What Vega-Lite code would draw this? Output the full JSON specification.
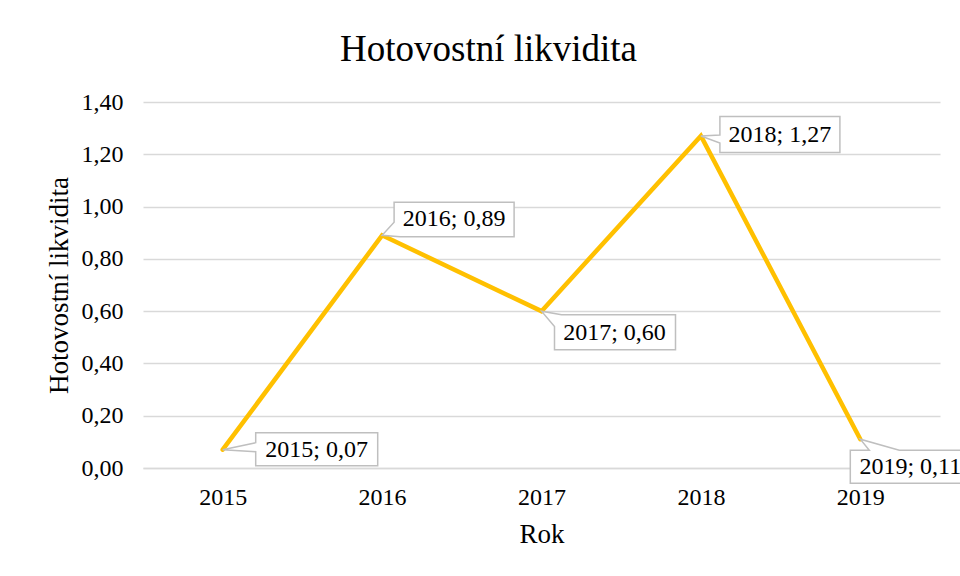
{
  "$schema": "https://vega.github.io/schema/vega-lite/v6.json",
  "autosize": {"type": "none"},
  "padding": {"left": 143, "top": 102, "right": 20, "bottom": 108},
  "width": 797,
  "height": 366,
  "background": "white",
  "config": {
    "font": "Liberation Serif",
    "view": {"stroke": null},
    "axis": {"labelColor": "black", "titleColor": "black", "titleFontWeight": "normal", "labelFont": "Liberation Serif", "titleFont": "Liberation Serif"}
  },
  "title": {"text": "Hotovostní likvidita", "fontSize": 37, "font": "Liberation Serif", "fontWeight": "normal", "color": "black", "anchor": "middle", "frame": "group", "dx": -53, "offset": 21},
  "data": {"values": [
    {"year": "2015", "value": 0.07, "label": "2015; 0,07"},
    {"year": "2016", "value": 0.89, "label": "2016; 0,89"},
    {"year": "2017", "value": 0.60, "label": "2017; 0,60"},
    {"year": "2018", "value": 1.27, "label": "2018; 1,27"},
    {"year": "2019", "value": 0.11, "label": "2019; 0,11"}
  ]},
  "encoding": {
    "x": {"field": "year", "type": "ordinal", "scale": {"type": "point", "padding": 0.5},
      "axis": {"title": "Rok", "labelAngle": 0, "ticks": false, "grid": false, "domainColor": "#D9D9D9", "domainWidth": 1.5, "labelFontSize": 24, "labelPadding": 17, "titleFontSize": 27, "titlePadding": 12}},
    "y": {"field": "value", "type": "quantitative", "scale": {"domain": [0, 1.4], "nice": false, "zero": true},
      "axis": {"title": "Hotovostní likvidita", "values": [0, 0.2, 0.4, 0.6, 0.8, 1.0, 1.2, 1.4], "labelExpr": "replace(format(datum.value, '.2f'), '.', ',')", "domain": false, "ticks": false, "gridColor": "#D9D9D9", "gridWidth": 1.5, "labelFontSize": 24, "labelPadding": 20, "titleFontSize": 27, "titlePadding": 8}}
  },
  "layer": [
    {"mark": {"type": "line", "color": "#FFC000", "strokeWidth": 4.5, "strokeCap": "round", "strokeJoin": "miter"}},
    {"transform": [{"filter": "datum.year == '2015'"}],
     "layer": [
       {"mark": {"type": "point", "filled": true, "size": 4, "fill": "white", "opacity": 1, "stroke": "#BFBFBF", "strokeWidth": 1.5, "shape": "M33,-17L155,-17L155,16L33,16L33,2L0,0L33,-7Z"}},
       {"mark": {"type": "text", "fontSize": 24, "color": "black", "align": "center", "baseline": "middle", "dx": 94, "dy": 0}, "encoding": {"text": {"field": "label"}}}
     ]},
    {"transform": [{"filter": "datum.year == '2016'"}],
     "layer": [
       {"mark": {"type": "point", "filled": true, "size": 4, "fill": "white", "opacity": 1, "stroke": "#BFBFBF", "strokeWidth": 1.5, "shape": "M12,-33L132,-33L132,1.5L18,1.5L0,0L12,-13Z"}},
       {"mark": {"type": "text", "fontSize": 24, "color": "black", "align": "center", "baseline": "middle", "dx": 72, "dy": -16}, "encoding": {"text": {"field": "label"}}}
     ]},
    {"transform": [{"filter": "datum.year == '2017'"}],
     "layer": [
       {"mark": {"type": "point", "filled": true, "size": 4, "fill": "white", "opacity": 1, "stroke": "#BFBFBF", "strokeWidth": 1.5, "shape": "M13,15.5L13,38.5L134,38.5L134,3.5L20,3.5L0,0Z"}},
       {"mark": {"type": "text", "fontSize": 24, "color": "black", "align": "center", "baseline": "middle", "dx": 73, "dy": 22}, "encoding": {"text": {"field": "label"}}}
     ]},
    {"transform": [{"filter": "datum.year == '2018'"}],
     "layer": [
       {"mark": {"type": "point", "filled": true, "size": 4, "fill": "white", "opacity": 1, "stroke": "#BFBFBF", "strokeWidth": 1.5, "shape": "M19,-19.5L139,-19.5L139,16.5L19,16.5L19,7L0,0L19,-1Z"}},
       {"mark": {"type": "text", "fontSize": 24, "color": "black", "align": "center", "baseline": "middle", "dx": 79, "dy": -1}, "encoding": {"text": {"field": "label"}}}
     ]},
    {"transform": [{"filter": "datum.year == '2019'"}],
     "layer": [
       {"mark": {"type": "point", "filled": true, "size": 4, "fill": "white", "opacity": 1, "stroke": "#BFBFBF", "strokeWidth": 1.5, "shape": "M-10,11L9,11L0,0L39,11L112,11L112,44L-10,44Z"}},
       {"mark": {"type": "text", "fontSize": 24, "color": "black", "align": "center", "baseline": "middle", "dx": 50, "dy": 28}, "encoding": {"text": {"field": "label"}}}
     ]}
  ]
}
